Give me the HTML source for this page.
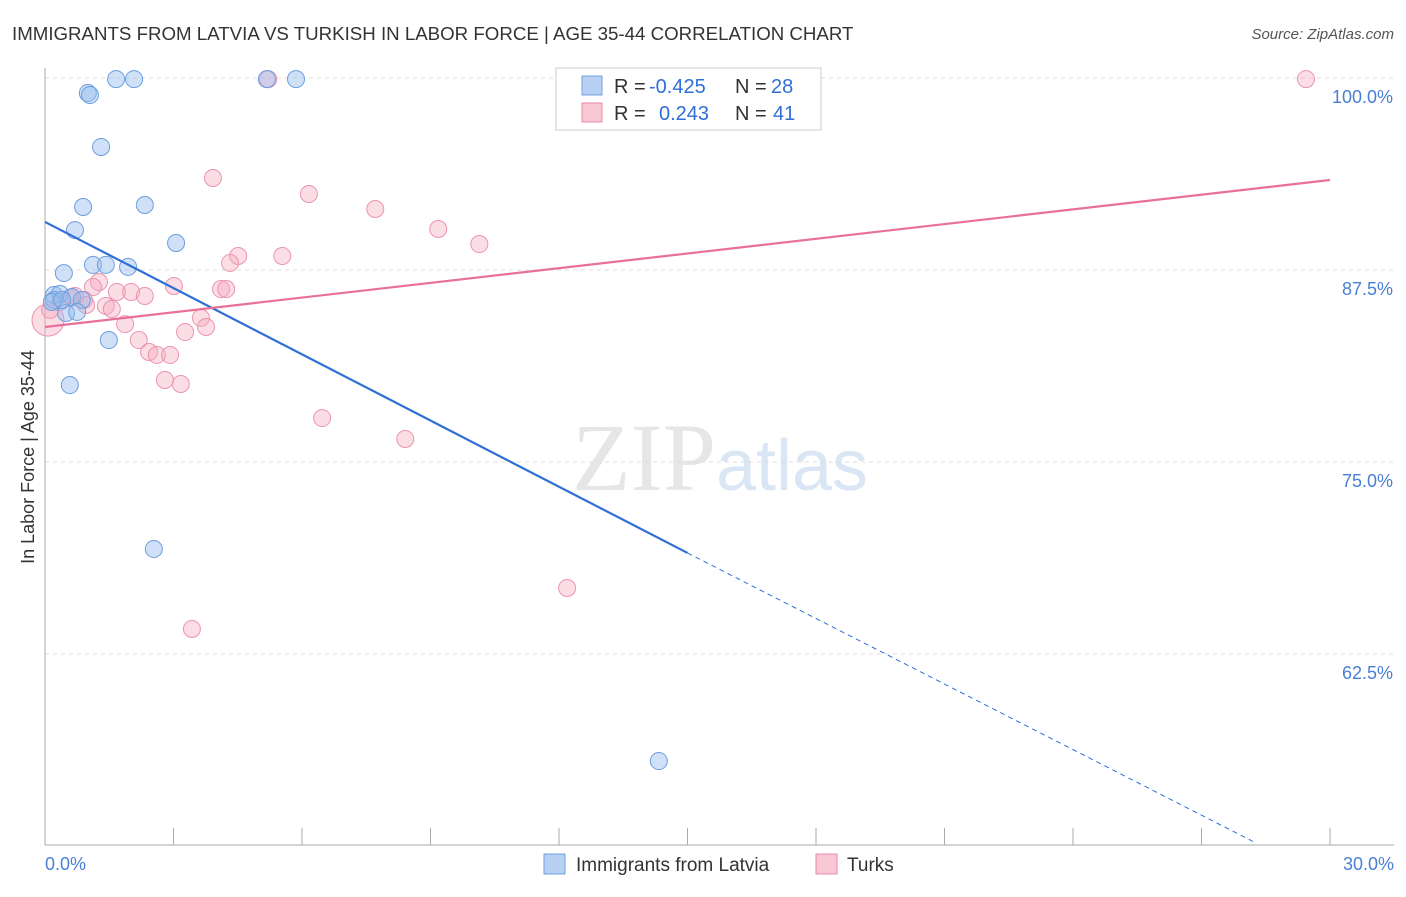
<!DOCTYPE html>
<html><head><meta charset="utf-8"><style>
body{margin:0;background:#fff;font-family:"Liberation Sans",sans-serif}
svg text{font-family:"Liberation Sans",sans-serif}
</style></head><body>
<svg id="c" width="1406" height="892" xmlns="http://www.w3.org/2000/svg">
<text x="12" y="40" font-size="18.7" fill="#333">IMMIGRANTS FROM LATVIA VS TURKISH IN LABOR FORCE | AGE 35-44 CORRELATION CHART</text>
<text x="1394" y="39" font-size="15" fill="#555" font-style="italic" text-anchor="end">Source: ZipAtlas.com</text>
<text x="34" y="457" font-size="18" fill="#333" text-anchor="middle" transform="rotate(-90 34 457)">In Labor Force | Age 35-44</text>
<text x="720" y="490" font-size="96" fill="#e6e6e6" text-anchor="middle" font-family="Liberation Serif"><tspan font-family="Liberation Serif">ZIP</tspan><tspan fill="#dbe6f5" font-family="Liberation Sans" font-size="72">atlas</tspan></text>
<g id="grid"></g><g id="pts"></g><g id="lines"></g>
<g>
<rect x="556" y="68" width="265" height="62" fill="#fff" stroke="#ccc"/>
<rect x="582" y="76" width="20" height="19" fill="#b8d0f2" stroke="#6f9fe0"/>
<rect x="582" y="103" width="20" height="19" fill="#f9c6d4" stroke="#e88aa6"/>
<g font-size="20" fill="#333">
<text x="614" y="93">R =</text><text x="649" y="93" fill="#2f6fd6">-0.425</text><text x="735" y="93">N =</text><text x="771" y="93" fill="#2f6fd6">28</text>
<text x="614" y="120">R =</text><text x="659" y="120" fill="#2f6fd6">0.243</text><text x="735" y="120">N =</text><text x="773" y="120" fill="#2f6fd6">41</text>
</g>
</g>
<g>
<rect x="544" y="854" width="21" height="20" fill="#b8d0f2" stroke="#6f9fe0"/>
<text x="576" y="871" font-size="19" fill="#333">Immigrants from Latvia</text>
<rect x="816" y="854" width="21" height="20" fill="#f9c6d4" stroke="#e88aa6"/>
<text x="847" y="871" font-size="19" fill="#333">Turks</text>
</g>
</svg>
<script>
const yTickValues=[100,87.5,75,62.5];
const yTickLabels=["100.0%","87.5%","75.0%","62.5%"];
const xTickValues=[0,3,6,9,12,15,18,21,24,27,30];
const latviaX=[1.66,2.08,5.18,5.86,1.0,1.05,1.31,0.89,2.33,0.7,3.06,0.44,1.12,1.42,1.94,0.21,0.35,0.63,0.21,0.86,0.49,0.75,1.49,0.58,2.54,14.33,0.16,0.40];
const latviaY=[99.93,99.93,99.93,99.93,99.02,98.89,95.51,91.6,91.73,90.1,89.26,87.3,87.83,87.83,87.7,85.87,85.94,85.74,85.55,85.55,84.7,84.77,82.94,80.01,69.34,55.53,85.42,85.55];
const turksX=[29.44,5.21,3.92,6.16,7.71,9.18,10.14,4.51,5.54,4.32,3.01,1.26,1.12,1.68,2.01,2.33,4.11,4.23,0.91,0.58,1.42,1.56,1.87,3.64,3.27,3.76,2.19,2.43,2.61,2.92,2.8,3.17,6.47,8.41,12.19,3.43,0.07,0.35,0.96,0.70,0.12];
const turksY=[99.93,99.93,93.49,92.45,91.47,90.17,89.19,88.41,88.41,87.96,86.46,86.72,86.39,86.07,86.07,85.81,86.26,86.26,85.55,85.68,85.16,84.96,83.98,84.38,83.46,83.79,82.94,82.16,81.97,81.97,80.34,80.08,77.86,76.5,66.8,64.13,84.24,85.42,85.22,85.81,84.9];
const latviaLine=[0,90.63,15,69.08,28.2,50.3];
const turksLine=[0,83.79,30,93.36];
const X=v=>45+v/30*1285, Y=v=>78+(100-v)*15.36;
const NS="http://www.w3.org/2000/svg";
function mk(t,a,p){const e=document.createElementNS(NS,t);for(const k in a)e.setAttribute(k,a[k]);p.appendChild(e);return e;}
const g=document.getElementById('grid');
yTickValues.forEach((v,i)=>{
const l=mk('line',{x1:45,x2:1394,y1:Y(v),y2:Y(v),stroke:'#ddd','stroke-dasharray':'4,4'},g);


const t=mk('text',{x:1393,y:Y(v)+25,'font-size':18,fill:'#4a7fd6','text-anchor':'end'},g);t.textContent=yTickLabels[i];


});
const ax=mk('line',{x1:45,x2:45,y1:68,y2:845,stroke:'#aaa'},g);


const bx=mk('line',{x1:45,x2:1394,y1:845,y2:845,stroke:'#aaa'},g);


xTickValues.forEach(v=>{const t=mk('line',{x1:X(v),x2:X(v),y1:828,y2:845,stroke:'#aaa'},g);

});
[[0,"0.0%","start",45],[30,"30.0%","end",1394]].forEach(a=>{const t=mk('text',{x:a[3],y:870,'font-size':18,fill:'#4a7fd6','text-anchor':a[2]},g);t.textContent=a[1];

});
const p=document.getElementById('pts');
turksX.forEach((v,i)=>{const c=mk('circle',{cx:X(v),cy:Y(turksY[i]),r:i==36?16:8.5,fill:'rgba(246,170,192,0.4)',stroke:'#ec94ae','stroke-width':1},p);

});
latviaX.forEach((v,i)=>{const c=mk('circle',{cx:X(v),cy:Y(latviaY[i]),r:8.5,fill:'rgba(150,188,238,0.45)',stroke:'#6b9ee0','stroke-width':1},p);

});
const L=document.getElementById('lines');
const a=mk('line',{x1:X(latviaLine[0]),y1:Y(latviaLine[1]),x2:X(latviaLine[2]),y2:Y(latviaLine[3]),stroke:'#2f6fd6','stroke-width':2.2},L);


const b=mk('line',{x1:X(latviaLine[2]),y1:Y(latviaLine[3]),x2:X(latviaLine[4]),y2:Y(latviaLine[5]),stroke:'#2f6fd6','stroke-width':1,'stroke-dasharray':'5,4'},L);


const c=mk('line',{x1:X(turksLine[0]),y1:Y(turksLine[1]),x2:X(turksLine[2]),y2:Y(turksLine[3]),stroke:'#e8709a','stroke-width':2.2},L);


</script>
</body></html>
